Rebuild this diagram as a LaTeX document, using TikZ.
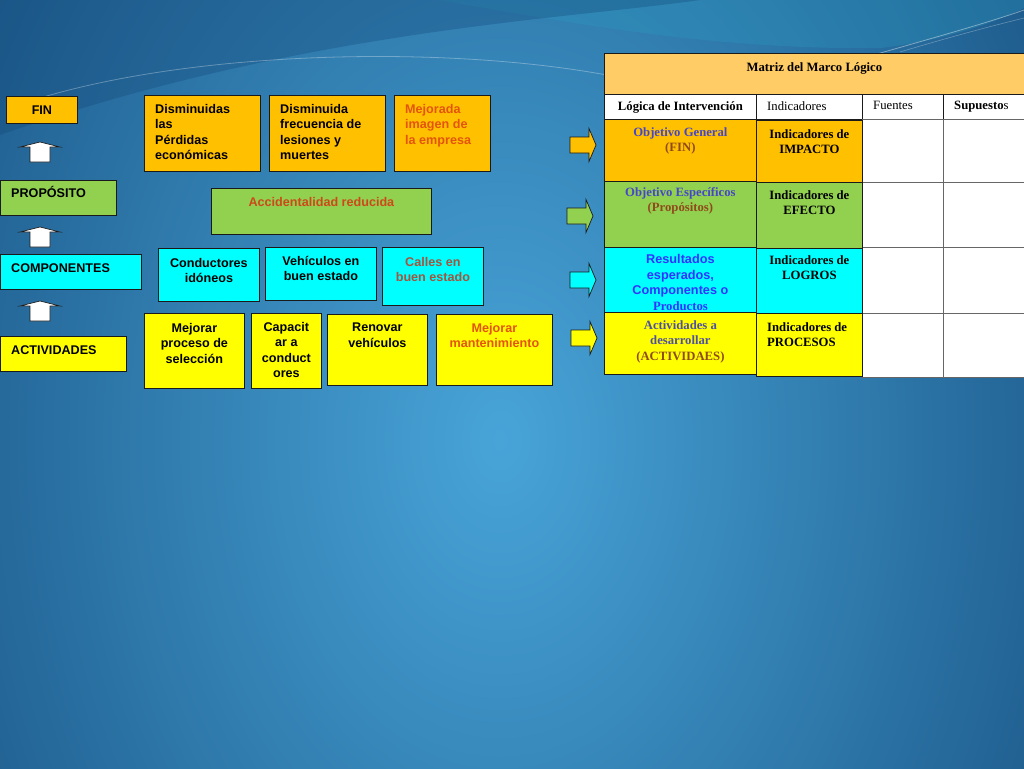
\documentclass[tikz,border=0pt]{standalone}
\usepackage{fontspec}
\setmainfont{Liberation Serif}
\newfontfamily\arial{Liberation Sans}
\usetikzlibrary{positioning}

\definecolor{naranja}{HTML}{FFC000}
\definecolor{verde}{HTML}{92D050}
\definecolor{cian}{HTML}{00FFFF}
\definecolor{amarillo}{HTML}{FFFF00}
\definecolor{titulo}{HTML}{FFCC66}
\definecolor{rojizo}{HTML}{E3540C}
\definecolor{ladrillo}{HTML}{CC4A1A}
\definecolor{pardo}{HTML}{A3553E}
\definecolor{azulobj}{HTML}{4646C8}
\definecolor{azulres}{HTML}{3333FF}
\definecolor{azulact}{HTML}{5050A0}
\definecolor{marron}{HTML}{8F4A1C}
\definecolor{fondoclaro}{HTML}{48A4D8}
\definecolor{fondooscuro}{HTML}{104474}
\definecolor{fondoteal}{HTML}{2A9CC0}
\definecolor{borde}{HTML}{1A1A1A}

\tikzset{
    caja/.style={draw=borde, line width=0.8pt, anchor=north west, inner sep=0pt},
    rotulo/.style={inner sep=0pt, font=\fontsize{12.6}{15.5}\arial\bfseries},
    celda/.style={draw=borde, line width=0.8pt, anchor=north west, inner sep=0pt},
    celdablanca/.style={draw=black!60, line width=1.2pt, fill=white, anchor=north west, inner sep=0pt},
    tabla/.style={inner sep=0pt, font=\fontsize{12.7}{15.6}\selectfont\bfseries},
    flechaarriba/.style={draw=borde, fill=white, line width=0.7pt},
    flechaderecha/.style={draw=borde, line width=0.7pt}
}

\begin{document}
\begin{tikzpicture}[x=1pt, y=-1pt]
    \useasboundingbox (0,0) rectangle (1024,768);

    % fondo
    \begin{scope}
        \clip (0,0) rectangle (1024,768);
        \fill[fondooscuro] (0,0) rectangle (1024,768);
        \shade[inner color=fondoclaro, outer color=fondooscuro] (500,440) ellipse[x radius=820, y radius=1150];
        \fill[fondoteal, opacity=0.3] (440,0) .. controls (580,25) and (720,50) .. (880,48) .. controls (950,40) and (1000,20) .. (1024,8) -- (1024,0) -- cycle;
        \fill[fondooscuro, opacity=0.3] (0,0) -- (700,0) .. controls (560,20) and (300,30) .. (0,135) -- cycle;
        \draw[white, opacity=0.3, line width=0.8pt] (40,98) .. controls (200,50) and (450,45) .. (612,76);
        \draw[white, opacity=0.4, line width=0.8pt] (870,56) .. controls (940,36) and (990,22) .. (1024,10);
        \draw[white, opacity=0.3, line width=0.6pt] (900,52) .. controls (960,34) and (1000,24) .. (1024,18);
    \end{scope}

    % columna izquierda
    \node[caja, fill=naranja, minimum width=71pt, minimum height=27pt] (fin) at (6,96) {};
    \node[caja, fill=verde, minimum width=116pt, minimum height=35pt] (proposito) at (0,180) {};
    \node[caja, fill=cian, minimum width=141pt, minimum height=35pt] (componentes) at (0,254) {};
    \node[caja, fill=amarillo, minimum width=126pt, minimum height=35pt] (actividades) at (0,336) {};

    \node[rotulo, below=10pt of fin.north] (tfin) {FIN};
    \node[rotulo, below right=6.4pt and 11pt of proposito.north west] (tproposito) {PROPÓSITO};
    \node[rotulo, below right=9pt and 11pt of componentes.north west] (tcomponentes) {COMPONENTES};
    \node[rotulo, below right=9pt and 11pt of actividades.north west] (tactividades) {ACTIVIDADES};

    \foreach \y in {142, 227, 301}
        \draw[flechaarriba] (30,\y+20) -- (30,\y+5) -- (20,\y+5) -- (40,\y) -- (60,\y+5) -- (50,\y+5) -- (50,\y+20) -- cycle;

    % fin
    \node[caja, fill=naranja, minimum width=116pt, minimum height=76pt] (perdidas) at (144,95) {};
    \node[caja, fill=naranja, minimum width=116pt, minimum height=76pt] (frecuencia) at (269,95) {};
    \node[caja, fill=naranja, minimum width=96pt, minimum height=76pt] (imagen) at (394,95) {};
    \node[rotulo, align=left, below right=9pt and 11pt of perdidas.north west] (tperdidas) {Disminuidas\\las\\Pérdidas\\económicas};
    \node[rotulo, align=left, below right=9pt and 11pt of frecuencia.north west] (tfrecuencia) {Disminuida\\frecuencia de\\lesiones y\\muertes};
    \node[rotulo, align=left, text=rojizo, below right=9pt and 11pt of imagen.north west] (timagen) {Mejorada\\imagen de\\la empresa};

    % proposito
    \node[caja, fill=verde, minimum width=220pt, minimum height=46pt] (accidentalidad) at (211,188) {};
    \node[rotulo, text=ladrillo, below=9pt of accidentalidad.north] (taccidentalidad) {Accidentalidad reducida};

    % componentes
    \node[caja, fill=cian, minimum width=101pt, minimum height=53pt] (conductores) at (158,248) {};
    \node[caja, fill=cian, minimum width=111pt, minimum height=53pt] (vehiculos) at (265,247) {};
    \node[caja, fill=cian, minimum width=101pt, minimum height=58pt] (calles) at (382,247) {};
    \node[rotulo, align=center, below=10pt of conductores.north] (tconductores) {Conductores\\idóneos};
    \node[rotulo, align=center, below=9pt of vehiculos.north] (tvehiculos) {Vehículos en\\buen estado};
    \node[rotulo, align=center, text=pardo, below=10pt of calles.north] (tcalles) {Calles en\\buen estado};

    % actividades
    \node[caja, fill=amarillo, minimum width=100pt, minimum height=75pt] (seleccion) at (144,313) {};
    \node[caja, fill=amarillo, minimum width=70pt, minimum height=75pt] (capacitar) at (251,313) {};
    \node[caja, fill=amarillo, minimum width=100pt, minimum height=71pt] (renovar) at (327,314) {};
    \node[caja, fill=amarillo, minimum width=116pt, minimum height=71pt] (mantenimiento) at (436,314) {};
    \node[rotulo, align=center, below=10pt of seleccion.north] (tseleccion) {Mejorar\\proceso de\\selección};
    \node[rotulo, align=center, below=9pt of capacitar.north] (tcapacitar) {Capacit\\ar a\\conduct\\ores};
    \node[rotulo, align=center, below=9pt of renovar.north] (trenovar) {Renovar\\vehículos};
    \node[rotulo, align=center, text=rojizo, below=9pt of mantenimiento.north] (tmantenimiento) {Mejorar\\mantenimiento};

    % flechas hacia la matriz
    \foreach \x/\y/\c in {570/145/naranja, 567/216/verde, 570/280/cian, 571/338/amarillo}
        \draw[flechaderecha, fill=\c] (\x,\y-8) -- (\x+19,\y-8) -- (\x+19,\y-16.5) -- (\x+26,\y) -- (\x+19,\y+16.5) -- (\x+19,\y+8) -- (\x,\y+8) -- cycle;

    % matriz del marco logico
    \node[celda, fill=titulo, minimum width=420pt, minimum height=41pt] (titulo) at (604,53) {};
    \node[celda, fill=white, minimum width=152pt, minimum height=25pt] (logica) at (604,94) {};
    \node[celda, fill=white, minimum width=106pt, minimum height=25pt] (indicadores) at (756,94) {};
    \node[celda, fill=white, minimum width=81pt, minimum height=25pt] (fuentes) at (862,94) {};
    \node[celda, fill=white, minimum width=81pt, minimum height=25pt] (supuestos) at (943,94) {};

    \foreach \y/\h in {119/63, 182/65, 247/66, 313/64} {
        \node[celdablanca, minimum width=81pt, minimum height=\h pt] (fu\y) at (862,\y) {};
        \node[celdablanca, minimum width=81pt, minimum height=\h pt] (su\y) at (943,\y) {};
    }

    \node[celda, fill=naranja, minimum width=152pt, minimum height=62pt] (logfin) at (604,119) {};
    \node[celda, fill=verde, minimum width=152pt, minimum height=66pt] (logproposito) at (604,181) {};
    \node[celda, fill=cian, minimum width=152pt, minimum height=65pt] (logcomponentes) at (604,247) {};
    \node[celda, fill=amarillo, minimum width=152pt, minimum height=62pt] (logactividades) at (604,312) {};
    \node[celda, fill=naranja, minimum width=106pt, minimum height=62pt] (indimpacto) at (756,120) {};
    \node[celda, fill=verde, minimum width=106pt, minimum height=66pt] (indefecto) at (756,182) {};
    \node[celda, fill=cian, minimum width=106pt, minimum height=65pt] (indlogros) at (756,248) {};
    \node[celda, fill=amarillo, minimum width=106pt, minimum height=63pt] (indprocesos) at (756,313) {};

    \node[tabla, below=9pt of titulo.north] (ttitulo) {Matriz del Marco Lógico};
    \node[tabla, below=7pt of logica.north] (tlogica) {Lógica de Intervención};
    \node[tabla, below right=7pt and 11pt of indicadores.north west] (tindicadores) {\mdseries Indicadores};
    \node[tabla, below right=7pt and 11pt of fuentes.north west] (tfuentes) {\mdseries Fuentes};
    \node[tabla, below right=7pt and 11pt of supuestos.north west] (tsupuestos) {Supuesto{\mdseries s}};

    \node[tabla, align=center, text=azulobj, below=8pt of logfin.north] (tlogfin) {Objetivo General\\\textcolor{marron}{(FIN)}};
    \node[tabla, align=center, text=azulobj, below=6pt of logproposito.north] (tlogproposito) {Objetivo Específicos\\\textcolor{marron}{(Propósitos)}};
    \node[tabla, align=center, text=azulres, below=7pt of logcomponentes.north] (tlogcomponentes) {{\arial Resultados}\\{\arial esperados,}\\{\arial Componentes o}\\Productos};
    \node[tabla, align=center, text=azulact, below=8pt of logactividades.north] (tlogactividades) {Actividades a\\desarrollar\\\textcolor{marron}{(ACTIVIDAES)}};

    \node[tabla, align=center, below=9pt of indimpacto.north] (tindimpacto) {Indicadores de\\IMPACTO};
    \node[tabla, align=center, below=8pt of indefecto.north] (tindefecto) {Indicadores de\\EFECTO};
    \node[tabla, align=center, below=7pt of indlogros.north] (tindlogros) {Indicadores de\\LOGROS};
    \node[tabla, align=left, below right=9pt and 11pt of indprocesos.north west] (tindprocesos) {Indicadores de\\PROCESOS};
\end{tikzpicture}
\end{document}
